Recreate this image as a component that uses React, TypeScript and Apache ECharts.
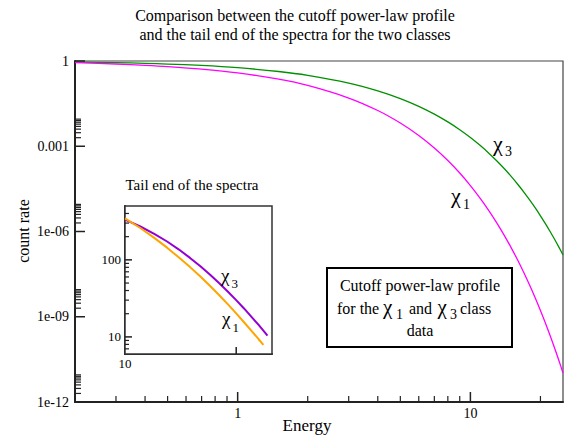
import React, { useEffect, useRef } from "react";
import * as echarts from "echarts";

// ---- main panel data (Energy vs count rate) ----
const energy = [0.2, 0.3, 0.4, 0.5, 0.7, 1, 1.5, 2, 3, 4, 5, 6, 7, 8, 9, 10, 11, 12, 13, 14, 15, 16, 17, 18, 19, 20, 21, 22, 23, 24, 25];
const chi3Profile = [0.922, 0.875, 0.828, 0.782, 0.696, 0.58, 0.427, 0.313, 0.168, 0.0896, 0.0478, 0.0254, 0.0135, 0.00718, 0.00382, 0.00203, 1.075e-3, 5.71e-4, 3.03e-4, 1.61e-4, 8.52e-5, 4.52e-5, 2.4e-5, 1.27e-5, 6.74e-6, 3.57e-6, 1.89e-6, 1.0e-6, 5.32e-7, 2.82e-7, 1.5e-7];
const chi1Profile = [0.871, 0.784, 0.706, 0.637, 0.518, 0.381, 0.229, 0.1376, 0.0498, 0.0181, 0.00655, 0.00238, 8.62e-4, 3.13e-4, 1.14e-4, 4.13e-5, 1.5e-5, 5.45e-6, 1.98e-6, 7.19e-7, 2.61e-7, 9.49e-8, 3.45e-8, 1.25e-8, 4.55e-9, 1.65e-9, 6.01e-10, 2.18e-10, 7.94e-11, 2.89e-11, 1.05e-11];

// ---- inset data (tail end of the spectra) ----
const tailEnergy3 = [10, 11, 12, 13, 14, 15, 16, 17, 18, 19, 20, 21, 22, 23, 24, 24.3];
const tailCounts3 = [332, 271, 218, 173, 136, 106, 82.4, 64.1, 49.8, 38.5, 30.0, 23.4, 18.2, 14.3, 11.2, 10.4];
const tailEnergy1 = [10, 11, 12, 13, 14, 15, 16, 17, 18, 19, 20, 21, 22, 23, 23.7];
const tailCounts1 = [346, 259, 193, 144, 107, 80.5, 60.7, 45.8, 34.7, 26.4, 20.2, 15.5, 12.0, 9.33, 7.88];

// ---- ticks and tick labels ----
const mainXMin = 0.2, mainXMax = 25, mainYMin = 1e-12, mainYMax = 1;
const mainXMajor = [1, 10];
const mainXLabels = ["1", "10"];
const mainXMinor = [0.3, 0.4, 0.5, 0.6, 0.7, 0.8, 0.9, 2, 3, 4, 5, 6, 7, 8, 9, 20];
const mainYMajor = [1e-12, 1e-9, 1e-6, 1e-3, 1];
const mainYLabels = ["1e-12", "1e-09", "1e-06", "0.001", "1"];
const mainYMinorDecades = [1e-12, 1e-9, 1e-6, 1e-3];
const minorMultipliers = [2, 3, 4, 5, 6, 7, 8, 9];
const mainYMinor = mainYMinorDecades.flatMap((d) => minorMultipliers.map((k) => k * d));

const insetXMin = 10, insetXMax = 25, insetYMin = 6, insetYMax = 500;
const insetXMajor = [20];
const insetXLabelVals = [10];
const insetXLabels = ["10"];
const insetYMajor = [10, 100];
const insetYLabels = ["10", "100"];
const insetYMinor = [7, 8, 9, 20, 30, 40, 50, 60, 70, 80, 90, 200, 300, 400];

const FONT = "'Liberation Serif', 'Times New Roman', serif";
const AX = "#222";

function tickSeries(xi: number, yi: number, pts: number[][], dir: "up" | "right", len: number, width: number) {
  return {
    type: "custom",
    xAxisIndex: xi,
    yAxisIndex: yi,
    data: pts,
    silent: true,
    clip: false,
    z: 6,
    renderItem: (_p: any, api: any) => {
      const p = api.coord([api.value(0), api.value(1)]);
      const shape =
        dir === "up"
          ? { x1: p[0], y1: p[1], x2: p[0], y2: p[1] - len }
          : { x1: p[0], y1: p[1], x2: p[0] + len, y2: p[1] };
      return { type: "line", shape, style: { stroke: AX, lineWidth: width } };
    },
  };
}

function labelSeries(xi: number, yi: number, pts: number[][], texts: string[], side: "bottom" | "left", gap: number, size: number) {
  return {
    type: "custom",
    xAxisIndex: xi,
    yAxisIndex: yi,
    data: pts,
    silent: true,
    clip: false,
    z: 6,
    renderItem: (params: any, api: any) => {
      const p = api.coord([api.value(0), api.value(1)]);
      return {
        type: "text",
        x: side === "bottom" ? p[0] : p[0] - gap,
        y: side === "bottom" ? p[1] + gap : p[1],
        style: {
          text: texts[params.dataIndex],
          fontFamily: FONT,
          fontSize: size,
          fill: "#000",
          align: side === "bottom" ? "center" : "right",
          verticalAlign: side === "bottom" ? "top" : "middle",
        },
      };
    },
  };
}

function txt(x: number, y: number, text: string, size: number, align = "center", extra: any = {}) {
  return {
    type: "text",
    x,
    y,
    z: 20,
    ...extra,
    style: { text, fontFamily: FONT, fontSize: size, fill: "#000", align, verticalAlign: "middle" },
  };
}

export default function App() {
  const ref = useRef<HTMLDivElement>(null);
  useEffect(() => {
    if (!ref.current) return;
    const chart = echarts.init(ref.current, null, { renderer: "svg" });
    const logAxisBase = {
      type: "log",
      logBase: 10,
      axisTick: { show: false },
      axisLabel: { show: false },
      splitLine: { show: false },
      axisLine: { show: true, onZero: false, lineStyle: { color: AX, width: 2 } },
    };
    chart.setOption({
      animation: false,
      backgroundColor: "#fff",
      grid: [
        { left: 75, top: 61, width: 488, height: 341, show: true, borderColor: "#444", borderWidth: 1.2, backgroundColor: "transparent" },
        { left: 125, top: 206, width: 147, height: 148, show: true, borderColor: "#333", borderWidth: 1.5, backgroundColor: "#fff", z: 3 },
      ],
      xAxis: [
        { ...logAxisBase, gridIndex: 0, min: mainXMin, max: mainXMax },
        { ...logAxisBase, gridIndex: 1, min: insetXMin, max: insetXMax },
      ],
      yAxis: [
        { ...logAxisBase, gridIndex: 0, min: mainYMin, max: mainYMax },
        { ...logAxisBase, gridIndex: 1, min: insetYMin, max: insetYMax },
      ],
      series: [
        {
          type: "line",
          name: "chi3",
          xAxisIndex: 0,
          yAxisIndex: 0,
          data: energy.map((e, i) => [e, chi3Profile[i]]),
          showSymbol: false,
          smooth: 0.3,
          lineStyle: { color: "#009000", width: 1.3 },
          z: 4,
        },
        {
          type: "line",
          name: "chi1",
          xAxisIndex: 0,
          yAxisIndex: 0,
          data: energy.map((e, i) => [e, chi1Profile[i]]),
          showSymbol: false,
          smooth: 0.3,
          lineStyle: { color: "#ff00ff", width: 1.3 },
          z: 4,
        },
        {
          type: "line",
          name: "tail chi3",
          xAxisIndex: 1,
          yAxisIndex: 1,
          data: tailEnergy3.map((e, i) => [e, tailCounts3[i]]),
          showSymbol: false,
          lineStyle: { color: "#9400d3", width: 2 },
          z: 5,
        },
        {
          type: "line",
          name: "tail chi1",
          xAxisIndex: 1,
          yAxisIndex: 1,
          data: tailEnergy1.map((e, i) => [e, tailCounts1[i]]),
          showSymbol: false,
          lineStyle: { color: "#ffa500", width: 2 },
          z: 5,
        },
        // main ticks
        tickSeries(0, 0, mainXMajor.map((v) => [v, mainYMin]), "up", 10, 1.5),
        tickSeries(0, 0, mainXMinor.map((v) => [v, mainYMin]), "up", 6, 1.2),
        tickSeries(0, 0, mainYMajor.map((v) => [mainXMin, v]), "right", 10, 1.5),
        tickSeries(0, 0, mainYMinor.map((v) => [mainXMin, v]), "right", 6, 1.2),
        labelSeries(0, 0, mainXMajor.map((v) => [v, mainYMin]), mainXLabels, "bottom", 4, 14),
        labelSeries(0, 0, mainYMajor.map((v) => [mainXMin, v]), mainYLabels, "left", 6, 14),
        // inset ticks
        tickSeries(1, 1, insetXMajor.map((v) => [v, insetYMin]), "up", 7, 1.5),
        tickSeries(1, 1, insetYMajor.map((v) => [insetXMin, v]), "right", 7, 1.5),
        tickSeries(1, 1, insetYMinor.map((v) => [insetXMin, v]), "right", 4, 1.2),
        labelSeries(1, 1, insetXLabelVals.map((v) => [v, insetYMin]), insetXLabels, "bottom", 3, 13),
        labelSeries(1, 1, insetYMajor.map((v) => [insetXMin, v]), insetYLabels, "left", 4, 13),
      ],
      graphic: [
        txt(295, 15, "Comparison between the cutoff power-law profile", 16),
        txt(295, 34, "and the tail end of the spectra for the two classes", 16),
        txt(23, 231, "count rate", 16, "center", { rotation: Math.PI / 2 }),
        txt(307, 425, "Energy", 17),
        txt(192, 185, "Tail end of the spectra", 15),
        // main curve labels
        txt(493, 143, "χ", 22, "left"),
        txt(505, 151, "3", 14, "left"),
        txt(451, 195, "χ", 22, "left"),
        txt(463, 204, "1", 14, "left"),
        // inset curve labels
        txt(221, 275, "χ", 19, "left"),
        txt(231.5, 283, "3", 13, "left"),
        txt(222, 318, "χ", 19, "left"),
        txt(232.5, 327, "1", 13, "left"),
        // annotation box
        {
          type: "rect",
          z: 15,
          shape: { x: 327, y: 268, width: 185, height: 79 },
          style: { fill: "#fff", stroke: "#000", lineWidth: 2 },
        },
        txt(420, 285, "Cutoff power-law profile", 16),
        txt(337, 308, "for the", 16, "left"),
        txt(383, 307, "χ", 21, "left"),
        txt(396, 314, "1", 14, "left"),
        txt(409, 308, "and", 16, "left"),
        txt(437.5, 307, "χ", 21, "left"),
        txt(450, 314, "3", 14, "left"),
        txt(460, 308, "class", 16, "left"),
        txt(420, 330, "data", 16),
      ],
    });
    return () => chart.dispose();
  }, []);
  return <div ref={ref} style={{ width: 573, height: 439, position: "absolute", left: 0, top: 0 }} />;
}
